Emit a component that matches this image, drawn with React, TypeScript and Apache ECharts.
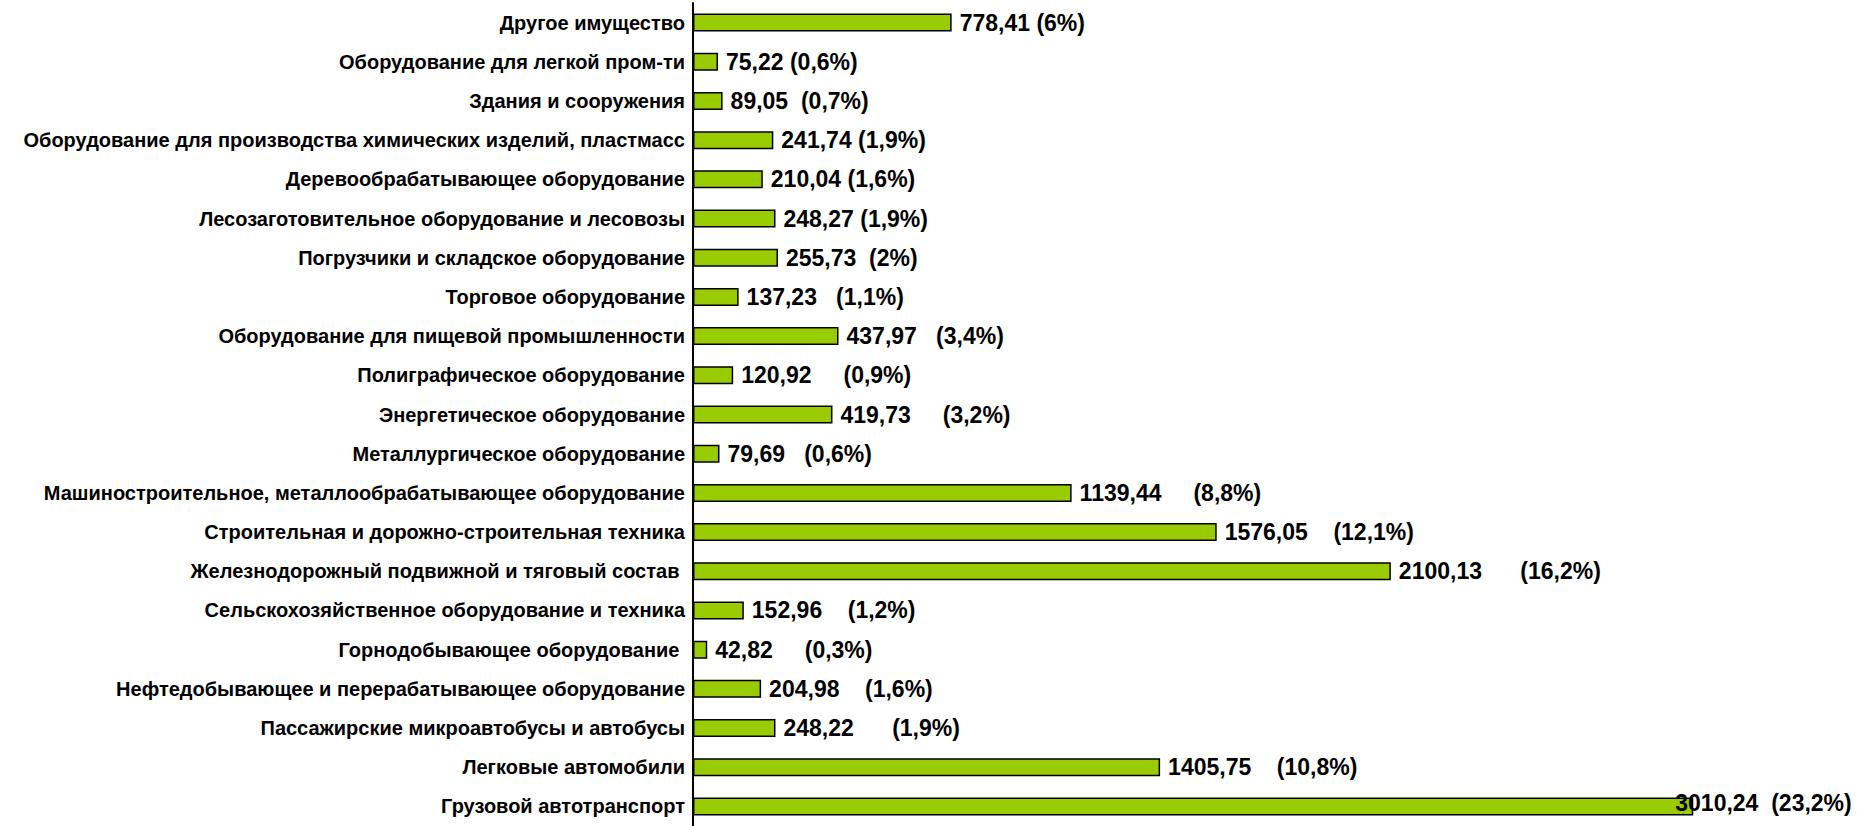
import React, { useEffect, useRef } from "react";
import * as echarts from "echarts";

const categories = [
  "Другое имущество",
  "Оборудование для легкой пром-ти",
  "Здания и сооружения",
  "Оборудование для производства химических изделий, пластмасс",
  "Деревообрабатывающее оборудование",
  "Лесозаготовительное оборудование и лесовозы",
  "Погрузчики и складское оборудование",
  "Торговое оборудование",
  "Оборудование для пищевой промышленности",
  "Полиграфическое оборудование",
  "Энергетическое оборудование",
  "Металлургическое оборудование",
  "Машиностроительное, металлообрабатывающее оборудование",
  "Строительная и дорожно-строительная техника",
  "Железнодорожный подвижной и тяговый состав ",
  "Сельскохозяйственное оборудование и техника",
  "Горнодобывающее оборудование ",
  "Нефтедобывающее и перерабатывающее оборудование",
  "Пассажирские микроавтобусы и автобусы",
  "Легковые автомобили",
  "Грузовой автотранспорт",
];

const values = [
  778.41, 75.22, 89.05, 241.74, 210.04, 248.27, 255.73, 137.23, 437.97, 120.92,
  419.73, 79.69, 1139.44, 1576.05, 2100.13, 152.96, 42.82, 204.98, 248.22,
  1405.75, 3010.24,
];

const valueTexts = [
  "778,41", "75,22", "89,05", "241,74", "210,04", "248,27", "255,73", "137,23",
  "437,97", "120,92", "419,73", "79,69", "1139,44", "1576,05", "2100,13",
  "152,96", "42,82", "204,98", "248,22", "1405,75", "3010,24",
];

const percentTexts = [
  "(6%)", "(0,6%)", "(0,7%)", "(1,9%)", "(1,6%)", "(1,9%)", "(2%)", "(1,1%)",
  "(3,4%)", "(0,9%)", "(3,2%)", "(0,6%)", "(8,8%)", "(12,1%)", "(16,2%)",
  "(1,2%)", "(0,3%)", "(1,6%)", "(1,9%)", "(10,8%)", "(23,2%)",
];

// number of spaces between value and percentage in each label
const labelGaps = [1, 1, 2, 1, 1, 1, 2, 3, 3, 5, 5, 3, 5, 4, 6, 4, 5, 4, 6, 4, 2];

const FONT = '"Liberation Sans", Arial, Helvetica, sans-serif';

export default function App() {
  const ref = useRef<HTMLDivElement>(null);

  useEffect(() => {
    if (!ref.current) return;
    const chart = echarts.init(ref.current, undefined, { renderer: "svg" });
    const data = values.map((v, i) => {
      const item: any = { value: v };
      if (i === values.length - 1) {
        item.label = { offset: [-26, -3] };
      }
      return item;
    });
    chart.setOption({
      animation: false,
      backgroundColor: "#ffffff",
      grid: { left: 693, top: 3, width: 1163, bottom: -15, containLabel: false },
      xAxis: {
        type: "value",
        min: 0,
        max: 3500,
        show: false,
        splitLine: { show: false },
      },
      yAxis: {
        type: "category",
        data: categories,
        inverse: true,
        axisLine: { show: true, lineStyle: { color: "#000", width: 2 } },
        axisTick: { show: false },
        axisLabel: {
          color: "#000",
          fontFamily: FONT,
          fontWeight: "bold",
          fontSize: 20,
          margin: 8,
        },
        splitLine: { show: false },
      },
      series: [
        {
          type: "bar",
          data,
          barWidth: 18,
          itemStyle: { color: "#99CC00", borderColor: "#000", borderWidth: 1.5 },
          label: {
            show: true,
            position: "right",
            distance: 8,
            color: "#000",
            fontFamily: FONT,
            fontWeight: "bold",
            fontSize: 23,
            formatter: (p: any) =>
              valueTexts[p.dataIndex] +
              "\u00A0".repeat(labelGaps[p.dataIndex]) +
              percentTexts[p.dataIndex],
          },
        },
      ],
    });
    return () => chart.dispose();
  }, []);

  return (
    <div
      ref={ref}
      style={{ position: "absolute", left: 0, top: 0, width: 1857, height: 826 }}
    />
  );
}
